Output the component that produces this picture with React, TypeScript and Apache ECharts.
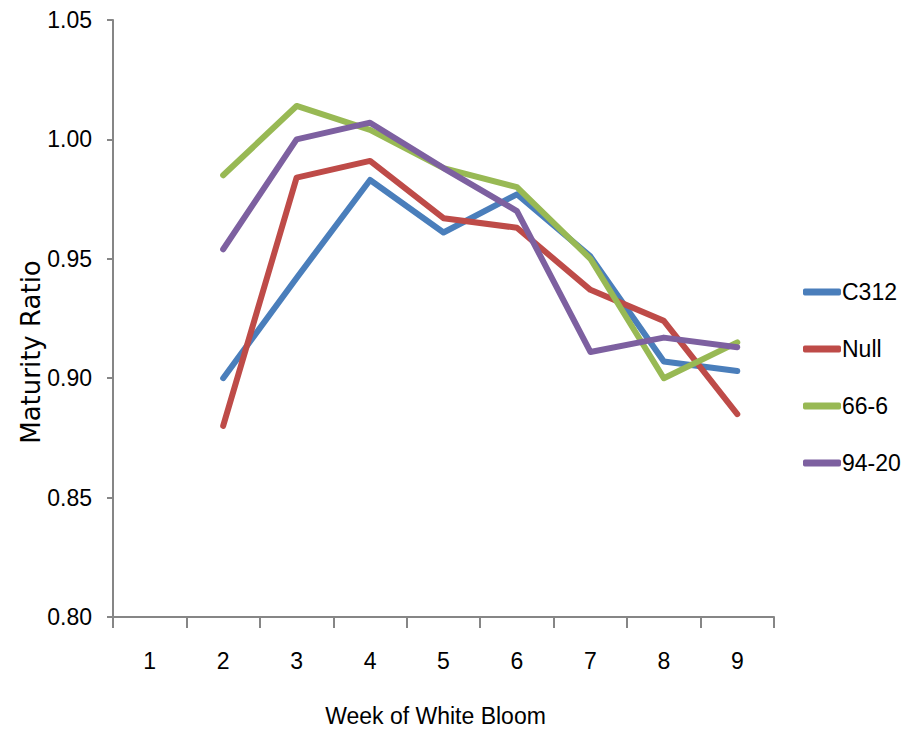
import React, { useEffect, useRef } from "react";
import * as echarts from "echarts";

const weeks = ["1", "2", "3", "4", "5", "6", "7", "8", "9"];
const c312 = [null, 0.900, 0.942, 0.983, 0.961, 0.977, 0.951, 0.907, 0.903];
const nullLine = [null, 0.880, 0.984, 0.991, 0.967, 0.963, 0.937, 0.924, 0.885];
const line666 = [null, 0.985, 1.014, 1.004, 0.988, 0.980, 0.950, 0.900, 0.915];
const line9420 = [null, 0.954, 1.000, 1.007, 0.988, 0.970, 0.911, 0.917, 0.913];
const seriesNames = ["C312", "Null", "66-6", "94-20"];
const colors = ["#4A7EBB", "#BE4B48", "#98B954", "#7D60A0"];

const font = "'Liberation Sans', Arial, sans-serif";

export default function App() {
  const ref = useRef<HTMLDivElement>(null);
  useEffect(() => {
    if (!ref.current) return;
    const chart = echarts.init(ref.current, null, { renderer: "svg" });
    const data = [c312, nullLine, line666, line9420];
    chart.setOption({
      animation: false,
      backgroundColor: "#ffffff",
      grid: {
        left: 113,
        top: 20,
        right: 130,
        bottom: 117,
        containLabel: false,
        outerBoundsMode: "none",
      },
      legend: {
        orient: "vertical",
        left: 798,
        top: 274,
        itemWidth: 38,
        itemHeight: 7,
        itemGap: 31,
        icon: "roundRect",
        data: seriesNames,
        textStyle: {
          fontFamily: font,
          fontSize: 23,
          lineHeight: 26,
          color: "#000",
          padding: [0, 0, 0, -4],
        },
      },
      graphic: [
        {
          type: "text",
          x: 31,
          y: 352,
          rotation: Math.PI / 2,
          style: {
            text: "Maturity Ratio",
            fontFamily: "'DejaVu Sans', sans-serif",
            fontSize: 26,
            fill: "#000",
            align: "center",
            verticalAlign: "middle",
          },
        },
      ],
      xAxis: {
        type: "category",
        data: weeks,
        boundaryGap: true,
        name: "Week of White Bloom",
        nameLocation: "middle",
        nameGap: 87,
        nameTextStyle: {
          fontFamily: font,
          fontSize: 23,
          color: "#000",
          padding: [0, 16, 0, 0],
        },
        axisLine: { lineStyle: { color: "#868686", width: 2 } },
        axisTick: {
          show: true,
          length: 11,
          alignWithLabel: false,
          lineStyle: { color: "#868686", width: 2 },
        },
        axisLabel: { fontFamily: font, fontSize: 23, color: "#000", margin: 32 },
        splitLine: { show: false },
      },
      yAxis: {
        type: "value",
        min: 0.8,
        max: 1.05,
        interval: 0.05,
        axisLine: { show: true, lineStyle: { color: "#868686", width: 2 } },
        axisTick: { show: true, length: 6, lineStyle: { color: "#868686", width: 2 } },
        axisLabel: {
          fontFamily: font,
          fontSize: 23,
          color: "#000",
          margin: 21,
          formatter: (v: number) => v.toFixed(2),
        },
        splitLine: { show: false },
      },
      series: seriesNames.map((name, i) => ({
        name,
        type: "line",
        data: data[i],
        symbol: "none",
        color: colors[i],
        lineStyle: { width: 6, color: colors[i], cap: "round", join: "round" },
        itemStyle: { color: colors[i] },
      })),
    });
    return () => chart.dispose();
  }, []);
  return (
    <div
      ref={ref}
      style={{ position: "fixed", left: 0, top: 0, width: 904, height: 734 }}
    />
  );
}
